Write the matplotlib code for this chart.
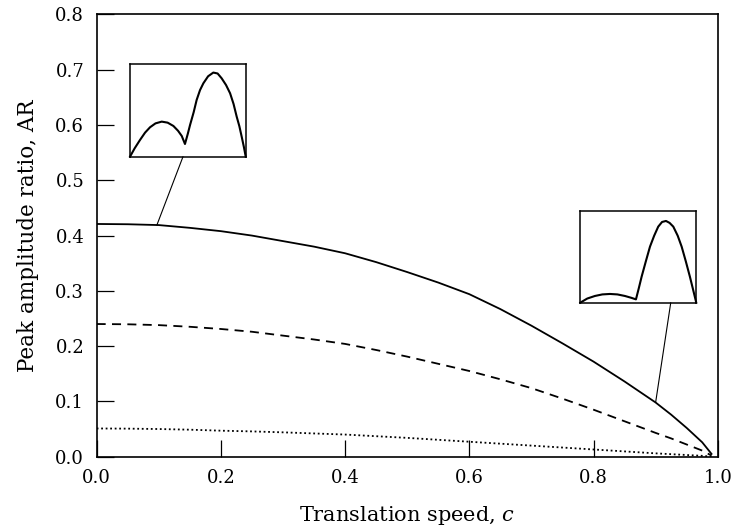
import numpy as np
import matplotlib
matplotlib.use('Agg')
import matplotlib.pyplot as plt
from matplotlib.patches import ConnectionPatch

plt.rcParams['font.family'] = 'DejaVu Serif'
plt.rcParams['mathtext.fontset'] = 'dejavuserif'

# peak amplitude ratio against translation speed
C = [0.0, 0.05, 0.1, 0.15, 0.2, 0.25, 0.3, 0.35, 0.4, 0.45, 0.5, 0.55, 0.6,
     0.65, 0.7, 0.75, 0.8, 0.85, 0.9, 0.925, 0.95, 0.975, 0.99]
AR_SOLID = [0.421, 0.4205, 0.419, 0.414, 0.408, 0.400, 0.390, 0.380, 0.368,
            0.352, 0.334, 0.315, 0.294, 0.267, 0.237, 0.205, 0.172, 0.136,
            0.098, 0.076, 0.052, 0.026, 0.005]
AR_DASHED = [0.240, 0.2395, 0.238, 0.235, 0.231, 0.226, 0.219, 0.212, 0.204,
             0.193, 0.181, 0.168, 0.155, 0.140, 0.124, 0.105, 0.085, 0.064,
             0.043, 0.033, 0.022, 0.011, 0.002]
AR_DOTTED = [0.051, 0.0507, 0.050, 0.0488, 0.047, 0.0457, 0.044, 0.042, 0.040,
             0.037, 0.034, 0.0305, 0.027, 0.0235, 0.020, 0.0165, 0.013, 0.0095,
             0.006, 0.0045, 0.003, 0.0015, 0.0]

# waveform sketches shown in the two insets (normalised time, amplitude)
WAVE_LEFT_T = [0.0, 0.04, 0.086, 0.13, 0.173, 0.22, 0.274, 0.325, 0.375, 0.415,
               0.447, 0.475, 0.50, 0.519, 0.55, 0.576, 0.605, 0.634, 0.675,
               0.72, 0.757, 0.792, 0.83, 0.865, 0.895, 0.922, 0.945, 0.965,
               0.985, 1.0]
WAVE_LEFT_A = [0.0, 0.09, 0.18, 0.26, 0.318, 0.36, 0.379, 0.368, 0.332, 0.28,
               0.224, 0.137, 0.25, 0.343, 0.48, 0.614, 0.72, 0.794, 0.87,
               0.91, 0.9, 0.848, 0.775, 0.686, 0.57, 0.433, 0.33, 0.217,
               0.1, 0.0]
WAVE_RIGHT_T = [0.0, 0.06, 0.126, 0.19, 0.256, 0.32, 0.385, 0.44, 0.48, 0.505,
                0.529, 0.565, 0.601, 0.637, 0.672, 0.705, 0.739, 0.77, 0.802,
                0.84, 0.874, 0.91, 0.945, 0.975, 1.0]
WAVE_RIGHT_A = [0.0, 0.045, 0.073, 0.09, 0.095, 0.09, 0.073, 0.053, 0.036, 0.16,
                0.284, 0.45, 0.611, 0.73, 0.829, 0.88, 0.891, 0.87, 0.829,
                0.73, 0.611, 0.45, 0.284, 0.13, 0.0]

fig = plt.figure(figsize=(7.35, 5.31), dpi=100)
ax = fig.add_axes([0.1315, 0.140, 0.845, 0.8327])

ax.plot(C, AR_SOLID, color='black', lw=1.3, ls='-')
ax.plot(C, AR_DASHED, color='black', lw=1.3, ls=(0, (5, 3.5)))
ax.plot(C, AR_DOTTED, color='black', lw=1.3, ls=(0, (1, 1.5)))

ax.set_xlim(0, 1.0)
ax.set_ylim(0, 0.8)
ax.set_xticks(np.arange(0, 1.01, 0.2))
ax.set_yticks(np.arange(0, 0.81, 0.1))
ax.xaxis.set_major_formatter(plt.FormatStrFormatter('%.1f'))
ax.yaxis.set_major_formatter(plt.FormatStrFormatter('%.1f'))
ax.tick_params(direction='in', length=12, width=0.9, labelsize=13)
ax.tick_params(axis='x', pad=9)
ax.tick_params(axis='y', pad=9)
for s in ax.spines.values():
    s.set_linewidth(1.2)

ax.set_xlabel('Translation speed, $c$', fontsize=15, labelpad=12)
ax.set_ylabel('Peak amplitude ratio, AR', fontsize=15.5, labelpad=12)


def inset(rect, t, a):
    ia = fig.add_axes(rect)
    ia.plot(t, a, color='black', lw=1.5, clip_on=False)
    ia.set_xlim(0, 1)
    ia.set_ylim(0, 1)
    ia.set_xticks([])
    ia.set_yticks([])
    for s in ia.spines.values():
        s.set_linewidth(1.1)
    return ia


left = inset([0.1769, 0.705, 0.1574, 0.174], WAVE_LEFT_T, WAVE_LEFT_A)
right = inset([0.7895, 0.430, 0.1578, 0.1727], WAVE_RIGHT_T, WAVE_RIGHT_A)

# leader lines from each inset down to its curve
for ia, fx, cx in [(left, 0.458, 0.097), (right, 0.78, 0.9)]:
    cy = np.interp(cx, C, AR_SOLID)
    con = ConnectionPatch(xyA=(fx, 0), coordsA=ia.transAxes,
                          xyB=(cx, cy), coordsB=ax.transData,
                          color='black', lw=0.8)
    fig.add_artist(con)

fig.savefig('out.png', dpi=100)
